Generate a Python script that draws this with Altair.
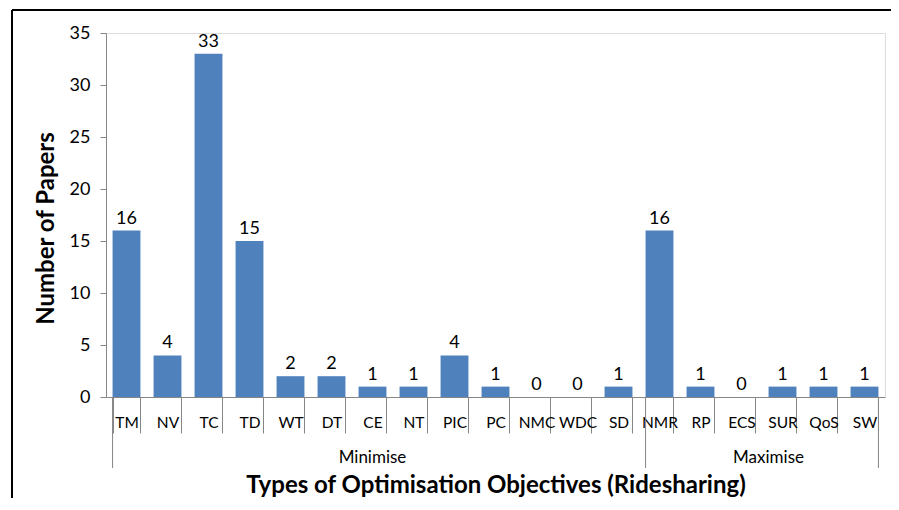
import altair as alt
import pandas as pd

categories = ["TM", "NV", "TC", "TD", "WT", "DT", "CE", "NT", "PIC", "PC", "NMC", "WDC", "SD",
              "NMR", "RP", "ECS", "SUR", "QoS", "SW"]
values = [16, 4, 33, 15, 2, 2, 1, 1, 4, 1, 0, 0, 1, 16, 1, 0, 1, 1, 1]
groups = ["Minimise"] * 13 + ["Maximise"] * 6

df = pd.DataFrame({"cat": categories, "val": values, "grp": groups})

FONT = "Lato"
GRAY = "#868686"
BLUE = "#4F81BD"

xscale = alt.Scale(domain=categories, paddingInner=0.32, paddingOuter=0.16)
yscale = alt.Scale(domain=[0, 35])

x_enc = alt.X("cat:N", scale=xscale, sort=categories,
              axis=alt.Axis(title="Types of Optimisation Objectives (Ridesharing)",
                            labelAngle=0, labelFont=FONT, labelFontSize=15.5, labelColor="black",
                            labelBaseline="middle", labelPadding=-11,
                            tickBand="extent", tickSize=36, tickColor=GRAY,
                            domainColor=GRAY, titleFont=FONT, titleFontSize=24,
                            titleFontWeight="bold", titleColor="black",
                            titleX=389.5, titleY=88, titleBaseline="middle"))

bars = alt.Chart(df).mark_bar(color=BLUE).encode(
    x=x_enc,
    y=alt.Y("val:Q", scale=yscale,
            axis=alt.Axis(title="Number of Papers", values=[0, 5, 10, 15, 20, 25, 30, 35],
                          grid=False, tickSize=6, tickColor=GRAY, domainColor=GRAY,
                          labelFont=FONT, labelFontSize=18, labelColor="black", labelPadding=10,
                          titleFont=FONT, titleFontSize=24, titleFontWeight="bold",
                          titleColor="black", titleX=-60, titleY=195,
                          titleAlign="center", titleBaseline="middle")),
)

labels = alt.Chart(df).mark_text(font=FONT, fontSize=18, dy=-12, baseline="middle",
                                 color="black").encode(
    x=alt.X("cat:N", scale=xscale, sort=categories),
    y=alt.Y("val:Q", scale=yscale),
    text="val:Q",
)

sep_start = pd.DataFrame({"cat": ["TM", "NMR"]})
seps = alt.Chart(sep_start).mark_rule(color=GRAY, strokeWidth=1).encode(
    x=alt.X("cat:N", scale=xscale, sort=categories, bandPosition=0),
    y=alt.value(364), y2=alt.value(435),
)
sep_end = pd.DataFrame({"cat": ["SW"]})
seps_end = alt.Chart(sep_end).mark_rule(color=GRAY, strokeWidth=1).encode(
    x=alt.X("cat:N", scale=xscale, sort=categories, bandPosition=1),
    y=alt.value(364), y2=alt.value(435),
)

grp_min = pd.DataFrame({"cat": ["CE"], "label": ["Minimise"]})
grp_max = pd.DataFrame({"cat": ["SUR"], "label": ["Maximise"]})
g1 = alt.Chart(grp_min).mark_text(font=FONT, fontSize=17, baseline="middle", color="black").encode(
    x=alt.X("cat:N", scale=xscale, sort=categories, bandPosition=0.5),
    y=alt.value(425), text="label:N",
)
g2 = alt.Chart(grp_max).mark_text(font=FONT, fontSize=17, baseline="middle", color="black").encode(
    x=alt.X("cat:N", scale=xscale, sort=categories, bandPosition=0),
    y=alt.value(425), text="label:N",
)

frame_top = alt.Chart(df).mark_rule(color="black", strokeWidth=1.5).encode(
    x=alt.value(-94), x2=alt.value(900), y=alt.value(-23))
frame_left = alt.Chart(df).mark_rule(color="black", strokeWidth=1.5).encode(
    x=alt.value(-94), y=alt.value(-23), y2=alt.value(600))

chart = alt.layer(frame_top, frame_left, bars, labels, seps, seps_end, g1, g2).properties(
    width=779, height=364,
    autosize=alt.AutoSizeParams(type="none"),
    padding={"left": 98, "top": 25, "right": 6, "bottom": 101},
).configure_view(stroke=GRAY, strokeWidth=1.5).configure(background="white")

chart.save("out.html", embed_options={"renderer": "svg", "actions": False})
